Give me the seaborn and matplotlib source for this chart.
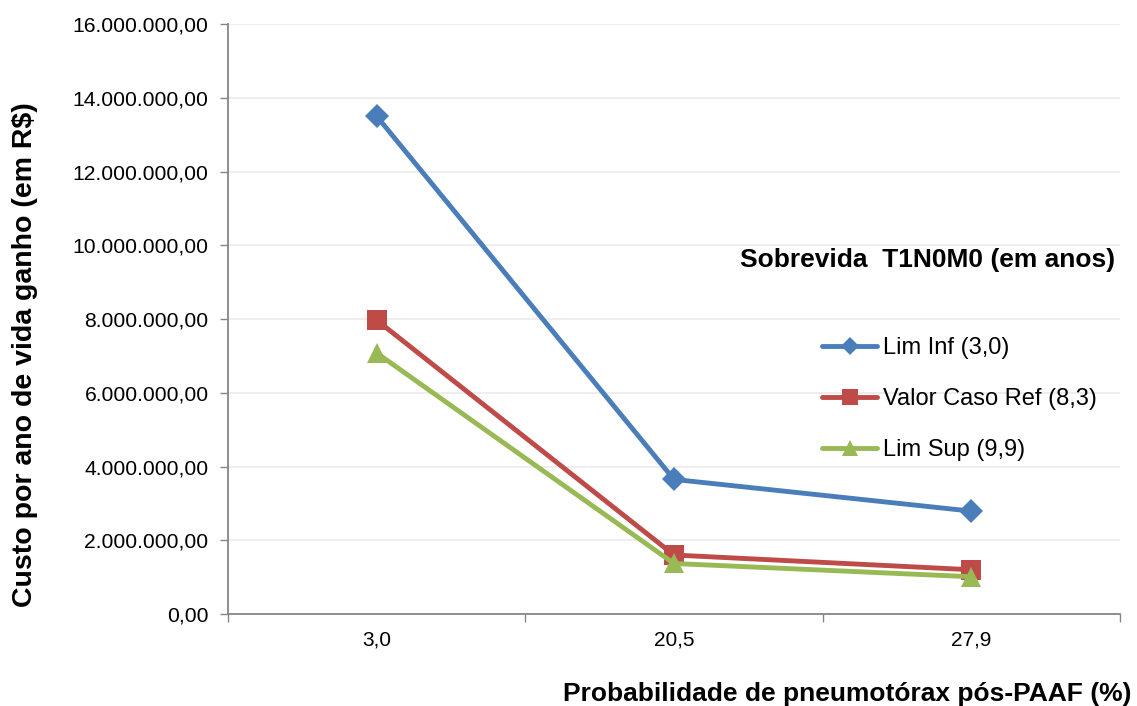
import matplotlib
matplotlib.use("Agg")
import matplotlib.pyplot as plt
import matplotlib.ticker as mticker
from matplotlib.lines import Line2D
import seaborn as sns
import pandas as pd

# Data
categories = ["3,0", "20,5", "27,9"]
lim_inf = [13500000, 3650000, 2790000]
valor_caso_ref = [7970000, 1600000, 1200000]
lim_sup = [7080000, 1370000, 1010000]
series_names = ["Lim Inf (3,0)", "Valor Caso Ref (8,3)", "Lim Sup (9,9)"]
legend_title = "Sobrevida  T1N0M0 (em anos)"

series_values = [lim_inf, valor_caso_ref, lim_sup]

sns.set_theme(style="white")
plt.rcParams["font.family"] = ["Liberation Sans", "DejaVu Sans"]
plt.rcParams["text.color"] = "black"
plt.rcParams["xtick.color"] = "black"
plt.rcParams["ytick.color"] = "black"

colors = ["#4A7EBB", "#BE4B48", "#98B954"]
marker_shapes = ["D", "s", "^"]
marker_sizes = [12, 14, 14]
legend_marker_sizes = [9.5, 11.5, 12]

fig = plt.figure(figsize=(11.37, 7.06), dpi=100)
ax = fig.add_axes([0.2005, 0.1303, 0.7845, 0.8357])

for name, vals, col, mk, ms in zip(series_names, series_values, colors,
                                   marker_shapes, marker_sizes):
    d = pd.DataFrame({"pos": range(len(categories)), "valor": vals})
    sns.lineplot(data=d, x="pos", y="valor", color=col, marker=mk, markersize=ms,
                 markeredgewidth=0, linewidth=3.5, ax=ax, zorder=3)

ax.set_xlim(-0.5, len(categories) - 0.5)
ax.set_ylim(0, 16000000)
ax.yaxis.set_major_locator(mticker.MultipleLocator(2000000))

def br_fmt(v, _):
    s = f"{v:,.2f}"
    return s.replace(",", "X").replace(".", ",").replace("X", ".")

ax.yaxis.set_major_formatter(mticker.FuncFormatter(br_fmt))

# category labels centred, tick marks on the boundaries
ax.set_xticks([i - 0.5 for i in range(len(categories) + 1)])
ax.set_xticklabels([])
ax.set_xticks(range(len(categories)), minor=True)
ax.set_xticklabels(categories, minor=True)
ax.tick_params(axis="x", which="major", length=6, width=1, color="#868686", direction="out")
ax.tick_params(axis="x", which="minor", length=0, pad=12, labelsize=15)
ax.tick_params(axis="y", length=6, width=1, color="#868686", direction="out", labelsize=15.2, pad=8)
ax.xaxis.set_ticks_position("bottom")
ax.yaxis.set_ticks_position("left")

ax.grid(axis="y", color="#EBEBEB", linewidth=1.2)
ax.grid(axis="x", visible=False)
for side in ["top", "right"]:
    ax.spines[side].set_visible(False)
for side in ["left", "bottom"]:
    ax.spines[side].set_color("#868686")
    ax.spines[side].set_linewidth(1.3)

ax.set_xlabel("")
ax.set_ylabel("")
fig.text(0.022, 0.498, "Custo por ano de vida ganho (em R$)", rotation=90,
         ha="center", va="center", fontsize=20.5, fontweight="bold")
fig.text(0.995, 0.017, "Probabilidade de pneumotórax pós-PAAF (%)",
         ha="right", va="center", fontsize=19, fontweight="bold")

# Legend
handles = [Line2D([], [], color=c, marker=m, linewidth=3.5, markersize=s,
                  markeredgewidth=0)
           for c, m, s in zip(colors, marker_shapes, legend_marker_sizes)]
fig.legend(handles, series_names, loc="upper left", bbox_to_anchor=(0.7147, 0.536),
           frameon=False, fontsize=17, handlelength=2.33, handletextpad=0.25,
           labelspacing=1.235, borderaxespad=0)
fig.text(0.981, 0.632, legend_title, ha="right", va="center", fontsize=19,
         fontweight="bold")

fig.savefig("out.png", dpi=100)
